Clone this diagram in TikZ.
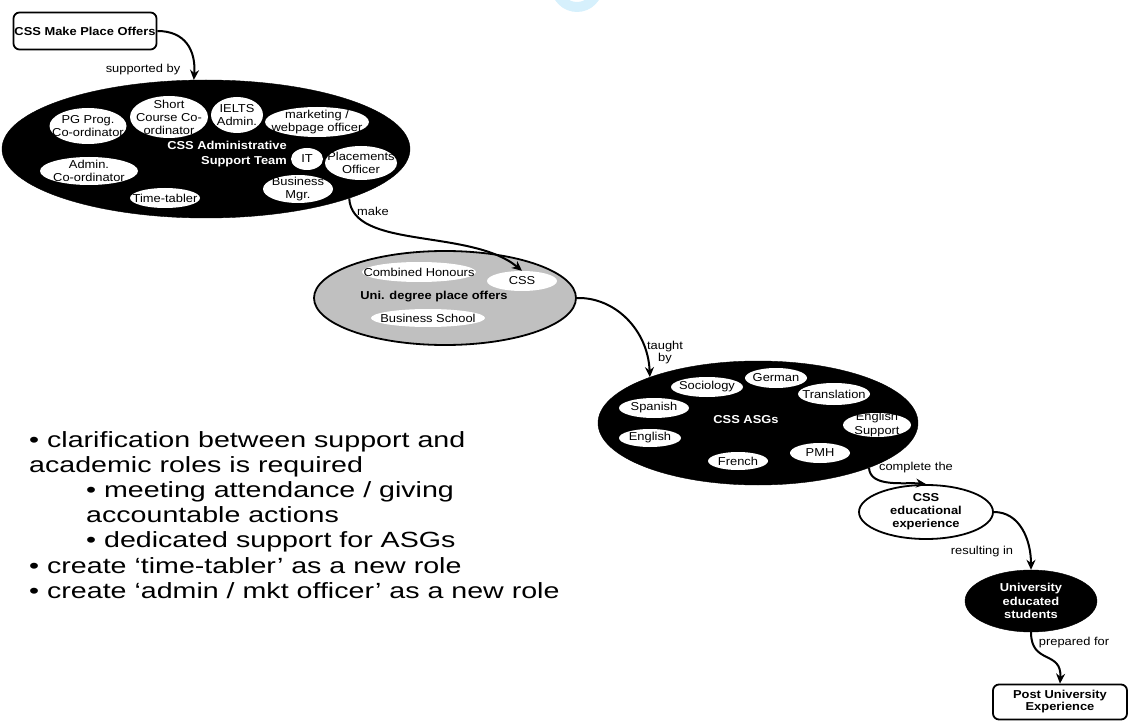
\documentclass[tikz,border=0pt]{standalone}
\usepackage{fontspec}
\setmainfont{Liberation Sans}[FakeStretch=1.12]
\newfontfamily\notefont{Liberation Sans}[FakeStretch=1.3]
\usetikzlibrary{shapes.geometric,arrows.meta}

\begin{document}
\begin{tikzpicture}[x=1pt,y=-1pt,
  txt/.style={font=\fontsize{11.5}{13}\selectfont, align=center, inner sep=0pt},
  btxt/.style={txt, font=\fontsize{11.5}{13}\selectfont\bfseries},
  wbtxt/.style={btxt, text=white},
  oval/.style={ellipse, inner sep=0pt},
  blackoval/.style={oval, fill=black, draw=black},
  whiteoval/.style={oval, fill=white},
  rbox/.style={rectangle, draw=black, line width=1.8pt, rounded corners=6pt, fill=white, inner sep=0pt},
  conn/.style={draw=black, line width=2pt, -{Stealth[length=10pt,width=9pt]}},
  note/.style={font=\notefont\fontsize{22}{25.2}\selectfont, align=left, inner sep=0pt, anchor=north west}
]
\useasboundingbox (0,0) rectangle (1133,722);

% faint ring at the top edge
\fill[even odd rule, fill={rgb,255:red,214;green,240;blue,252}] (577,-14) circle (26) (577,-14) circle (16);

% start box
\node[rbox, minimum width=143, minimum height=37, btxt] (offers) at (85,31) {CSS Make Place Offers};

% administrative support team
\node[blackoval, minimum width=408, minimum height=138] (ast) at (206,149) {};
\node[whiteoval, minimum width=77, minimum height=36] (pg) at (88,126) {};
\node[txt] (pg-t) at (pg) {PG Prog.\\Co-ordinator};
\node[whiteoval, minimum width=78, minimum height=42] (scc) at (169,117) {};
\node[txt] (scc-t) at (scc) {Short\\Course Co-\\ordinator};
\node[whiteoval, minimum width=52, minimum height=36] (ielts) at (237,115) {};
\node[txt] (ielts-t) at (ielts) {IELTS\\Admin.};
\node[whiteoval, minimum width=104, minimum height=30] (mkt) at (317,122) {};
\node[txt] (mkt-t) at (mkt) {marketing /\\webpage officer};
\node[whiteoval, minimum width=32, minimum height=22] (it) at (307,159) {};
\node[txt] (it-t) at (it) {IT};
\node[whiteoval, minimum width=72, minimum height=34] (place) at (361,163) {};
\node[txt] (place-t) at (place) {Placements\\Officer};
\node[whiteoval, minimum width=70, minimum height=28] (bm) at (298,189) {};
\node[txt] (bm-t) at (bm) {Business\\Mgr.};
\node[whiteoval, minimum width=98, minimum height=28] (adm) at (89,171) {};
\node[txt] (adm-t) at (adm) {Admin.\\Co-ordinator};
\node[whiteoval, minimum width=70, minimum height=20] (tt) at (165,198) {};
\node[txt] (tt-t) at (tt) {Time-tabler};
\node[wbtxt, align=right, anchor=east, font=\fontsize{11.5}{14.5}\selectfont\bfseries] (ast-t) at (287,154) {CSS Administrative\\Support Team};

% degree place offers
\node[oval, fill={rgb,255:red,192;green,192;blue,192}, draw=black, line width=1.8pt, minimum width=262, minimum height=94] (gray) at (445,298) {};
\node[whiteoval, minimum width=114, minimum height=20] (ch) at (419,272) {};
\node[txt] (ch-t) at (ch) {Combined Honours};
\node[whiteoval, minimum width=70, minimum height=20] (gcss) at (522,281) {};
\node[txt] (gcss-t) at (gcss) {CSS};
\node[whiteoval, minimum width=114, minimum height=18] (bs) at (428,318) {};
\node[txt] (bs-t) at (bs) {Business School};
\node[btxt] (gray-t) at (434,297) {Uni. degree place offers};

% academic subject groups
\node[blackoval, minimum width=320, minimum height=124] (asg) at (758,423) {};
\node[whiteoval, minimum width=72, minimum height=20] (soc) at (707,387) {};
\node[txt] (soc-t) at (soc) {Sociology};
\node[whiteoval, minimum width=62, minimum height=20] (ger) at (776,378) {};
\node[txt] (ger-t) at (ger) {German};
\node[whiteoval, minimum width=72, minimum height=22] (tra) at (834,394) {};
\node[txt] (tra-t) at (tra) {Translation};
\node[whiteoval, minimum width=70, minimum height=20] (spa) at (654,408) {};
\node[txt] (spa-t) at (spa) {Spanish};
\node[whiteoval, minimum width=68, minimum height=24] (ens) at (877,425) {};
\node[txt, font=\fontsize{11.5}{14}\selectfont] (ens-t) at (ens) {English\\Support};
\node[whiteoval, minimum width=62, minimum height=18] (eng) at (650,438) {};
\node[txt] (eng-t) at (eng) {English};
\node[whiteoval, minimum width=60, minimum height=18] (fre) at (738,461) {};
\node[txt] (fre-t) at (fre) {French};
\node[whiteoval, minimum width=60, minimum height=20] (pmh) at (820,453) {};
\node[txt] (pmh-t) at (pmh) {PMH};
\node[wbtxt] (asg-t) at (746,420) {CSS ASGs};

% outcomes
\node[oval, fill=white, draw=black, line width=1.8pt, minimum width=134, minimum height=54] (edu) at (926,512) {};
\node[btxt] (edu-t) at (edu) {CSS\\educational\\experience};
\node[blackoval, minimum width=132, minimum height=62] (univ) at (1031,601) {};
\node[wbtxt, font=\fontsize{11.5}{13.5}\selectfont\bfseries] (univ-t) at (univ) {University\\educated\\students};
\node[rbox, minimum width=134, minimum height=35, btxt, font=\fontsize{11.5}{12}\selectfont\bfseries] (post) at (1060,702) {Post University\\Experience};

% connectors
\draw[conn] (offers.east) .. controls (185,31) and (196,50) .. (ast.100);
\draw[conn] (ast.-19) .. controls (352,250) and (470,228) .. (gcss.north);
\draw[conn] (gray.east) .. controls (615,297) and (648,330) .. (asg.157);
\draw[conn] (asg.-22) .. controls (870,488) and (905,482) .. (edu.north);
\draw[conn] (edu.east) .. controls (1020,512) and (1031,540) .. (univ.north);
\draw[conn] (univ.south) .. controls (1031,665) and (1062,650) .. (post.north);

% connector labels
\node[txt] (l-sup) at (143,70) {supported by};
\node[txt, anchor=west] (l-make) at (357,211) {make};
\node[txt, font=\fontsize{11.5}{12}\selectfont] (l-taught) at (665,353) {taught\\by};
\node[txt] (l-comp) at (916,468) {complete the};
\node[txt] (l-res) at (982,552) {resulting in};
\node[txt] (l-prep) at (1074,643) {prepared for};

% notes
\node[note] (notes) at (29,431) {• clarification between support and\\
academic roles is required\\
\hspace*{57pt}• meeting attendance / giving\\
\hspace*{57pt}accountable actions\\
\hspace*{57pt}• dedicated support for ASGs\\
• create ‘time-tabler’ as a new role\\
• create ‘admin / mkt officer’ as a new role};
\end{tikzpicture}
\end{document}
